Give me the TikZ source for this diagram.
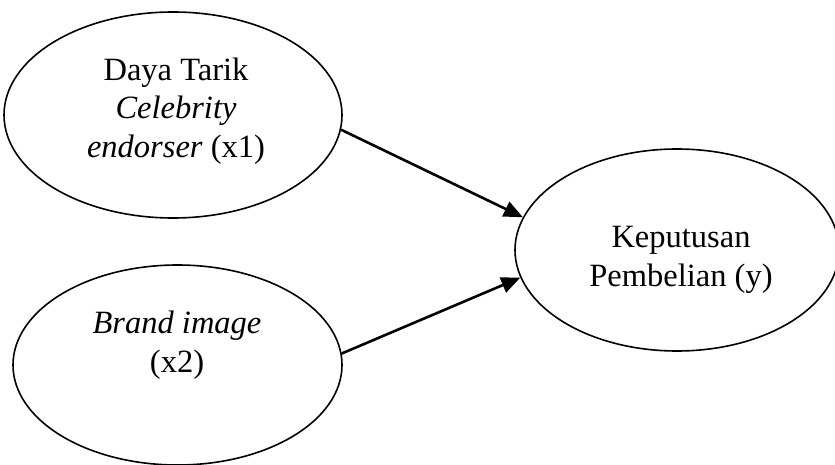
\documentclass[tikz,border=0pt]{standalone}
\usepackage{fontspec}
\setmainfont{Liberation Serif}
\usetikzlibrary{shapes.geometric,arrows.meta}
\begin{document}
\begin{tikzpicture}[x=1pt,y=-1pt,
  var/.style={draw,ellipse,line width=1.6pt,inner sep=0pt},
  txt/.style={align=center,font=\fontsize{32.5}{38.5}\selectfont},
  conn/.style={line width=2.6pt,-{Triangle[length=19pt,width=16pt]}}]
\useasboundingbox (0,0) rectangle (835,465);
\node[var,minimum width=338pt,minimum height=206pt] (x1) at (173,115) {};
\node[var,minimum width=329pt,minimum height=200pt] (x2) at (177.5,365) {};
\node[var,minimum width=324pt,minimum height=202pt] (y) at (677,250) {};
\node[txt] (t1) at (176,111) {Daya Tarik\\\textit{Celebrity}\\\textit{endorser} (x1)};
\node[txt] (t2) at (177,345) {\textit{Brand image}\\(x2)};
\node[txt] (t3) at (681,260) {Keputusan\\Pembelian (y)};
\draw[conn] (x1.-5.7) -- (y.168.5);
\draw[conn] (x2.4.9) -- (y.-170);
\end{tikzpicture}
\end{document}
